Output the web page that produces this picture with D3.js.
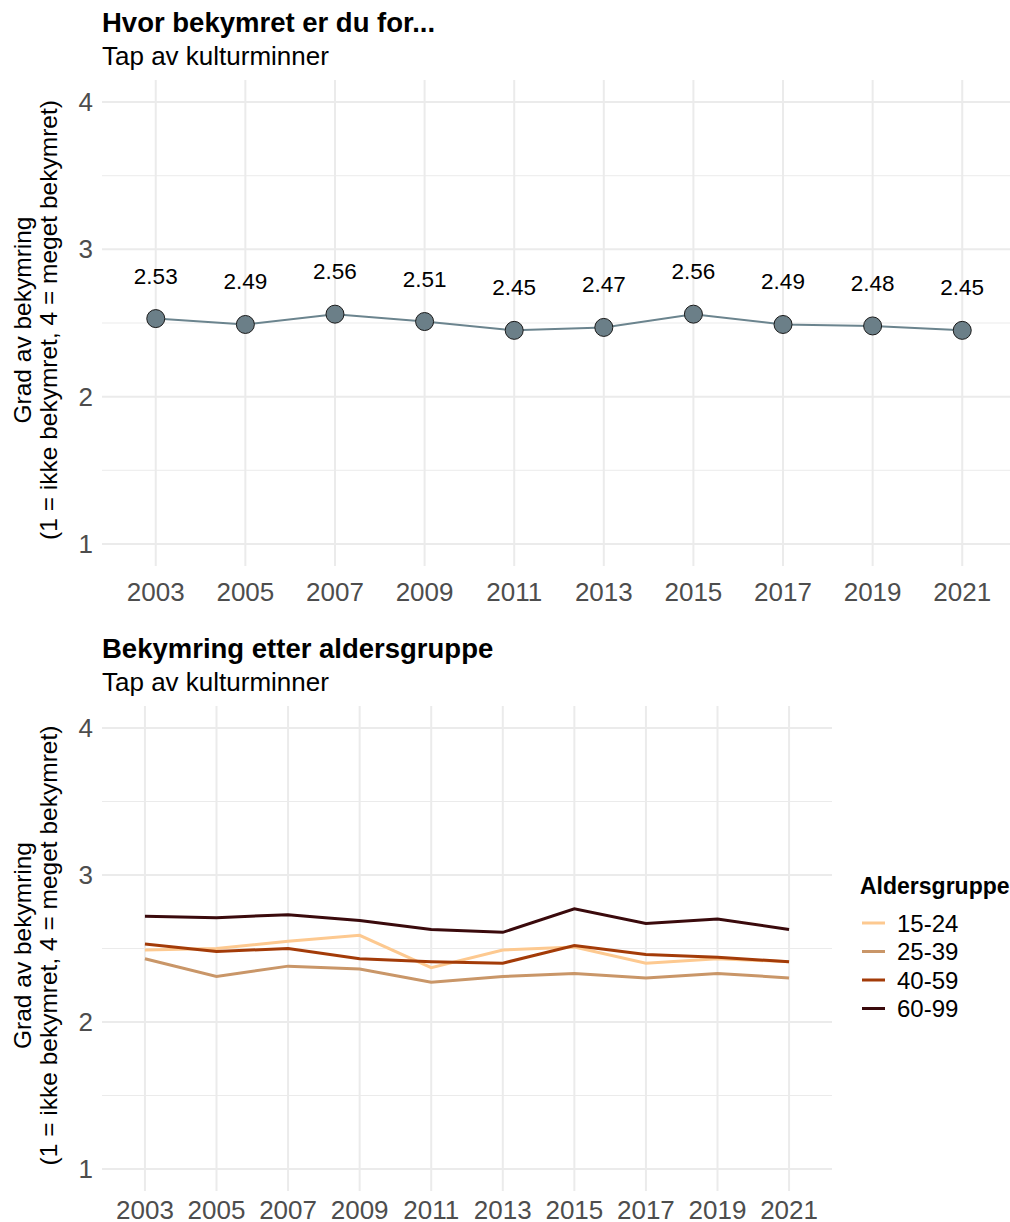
<!DOCTYPE html>
<html><head><meta charset="utf-8">
<script src="https://cdn.jsdelivr.net/npm/d3@7"></script>
<style>body{margin:0;background:#fff}svg{display:block;font-family:"Liberation Sans",Arial,sans-serif}</style>
</head><body><svg id="c" width="1010" height="1222"></svg>
<script>
const years = ["2003","2005","2007","2009","2011","2013","2015","2017","2019","2021"];
const overall = [2.53,2.49,2.56,2.51,2.45,2.47,2.56,2.49,2.48,2.45];
const groups = ["15-24","25-39","40-59","60-99"];
const g1524 = [2.49,2.50,2.55,2.59,2.37,2.49,2.51,2.40,2.43,2.41];
const g2539 = [2.43,2.31,2.38,2.36,2.27,2.31,2.33,2.30,2.33,2.30];
const g4059 = [2.53,2.48,2.50,2.43,2.41,2.40,2.52,2.46,2.44,2.41];
const g6099 = [2.72,2.71,2.73,2.69,2.63,2.61,2.77,2.67,2.70,2.63];
const groupColors = ["#fdc990","#c99668","#a33b08","#3a0a0c"];
const yTicks = [1,2,3,4];
const titles = ["Hvor bekymret er du for...","Bekymring etter aldersgruppe"];
const subtitle = "Tap av kulturminner";
const yTitle = ["Grad av bekymring","(1 = ikke bekymret, 4 = meget bekymret)"];
const legendTitle = "Aldersgruppe";

const svg = d3.select("#c");
const groupSeries = [g1524,g2539,g4059,g6099];

function panel(top, bottom, left, right, xRight, titleIdx, tickBase){
  const x = d3.scalePoint().domain(years).range([left, xRight]).padding(0.6);
  const y = d3.scaleLinear().domain([0.85,4.15]).range([bottom, top]);
  const g = svg.append("g");
  g.selectAll(".mn").data([1.5,2.5,3.5]).join("line")
    .attr("x1",left).attr("x2",right).attr("y1",d=>y(d)).attr("y2",d=>y(d))
    .attr("stroke","#ebebeb").attr("stroke-width",1);
  g.selectAll(".mj").data(yTicks).join("line")
    .attr("x1",left).attr("x2",right).attr("y1",d=>y(d)).attr("y2",d=>y(d))
    .attr("stroke","#ebebeb").attr("stroke-width",2);
  g.selectAll(".vx").data(years).join("line")
    .attr("x1",d=>x(d)).attr("x2",d=>x(d)).attr("y1",top).attr("y2",bottom)
    .attr("stroke","#ebebeb").attr("stroke-width",2);
  g.selectAll(".yt").data(yTicks).join("text")
    .attr("x",left-9).attr("y",d=>y(d)+9).attr("text-anchor","end")
    .attr("font-size",26).attr("fill","#4d4d4d").text(d=>d);
  g.selectAll(".xt").data(years).join("text")
    .attr("x",d=>x(d)).attr("y",tickBase).attr("text-anchor","middle")
    .attr("font-size",26).attr("fill","#4d4d4d").text(d=>d);
  svg.append("text").attr("x",102).attr("y",top-48).attr("font-size",27.5).attr("font-weight","bold").attr("fill","#000").text(titles[titleIdx]);
  svg.append("text").attr("x",102).attr("y",top-15).attr("font-size",26).attr("fill","#000").text(subtitle);
  const cy = (top+bottom)/2 - 3;
  [[31,yTitle[0]],[57,yTitle[1]]].forEach(([xx,t])=>{
    svg.append("text").attr("transform",`translate(${xx},${cy}) rotate(-90)`)
      .attr("text-anchor","middle").attr("font-size",24.5).attr("fill","#000").text(t);
  });
  return {x,y,g};
}

const p1 = panel(80, 566, 102, 1010, 1016, 0, 601);
const line1 = d3.line().x((d,i)=>p1.x(years[i])).y(d=>p1.y(d));
p1.g.append("path").datum(overall).attr("d",line1).attr("fill","none").attr("stroke","#6b848e").attr("stroke-width",2);
p1.g.selectAll(".pt").data(overall).join("circle")
  .attr("cx",(d,i)=>p1.x(years[i])).attr("cy",d=>p1.y(d)).attr("r",9)
  .attr("fill","#6b7f88").attr("stroke","#1a1a1a").attr("stroke-width",1);
p1.g.selectAll(".lb").data(overall).join("text")
  .attr("x",(d,i)=>p1.x(years[i])).attr("y",d=>p1.y(d)-35).attr("text-anchor","middle")
  .attr("font-size",22.5).attr("fill","#000").text(d=>d.toFixed(2));

const p2 = panel(706, 1191, 102, 832, 832, 1, 1219);
const line2 = d3.line().x((d,i)=>p2.x(years[i])).y(d=>p2.y(d));
groupSeries.forEach((s,k)=>{
  p2.g.append("path").datum(s).attr("d",line2).attr("fill","none")
    .attr("stroke",groupColors[k]).attr("stroke-width",3);
});
const lg = svg.append("g");
lg.append("text").attr("x",860).attr("y",894).attr("font-size",23).attr("font-weight","bold").attr("fill","#000").text(legendTitle);
groups.forEach((gname,k)=>{
  const yy = 923 + k*28.5;
  lg.append("line").attr("x1",862).attr("x2",885).attr("y1",yy).attr("y2",yy)
    .attr("stroke",groupColors[k]).attr("stroke-width",3);
  lg.append("text").attr("x",897).attr("y",yy+8.5).attr("font-size",24).attr("fill","#000").text(gname);
});
</script></body></html>
